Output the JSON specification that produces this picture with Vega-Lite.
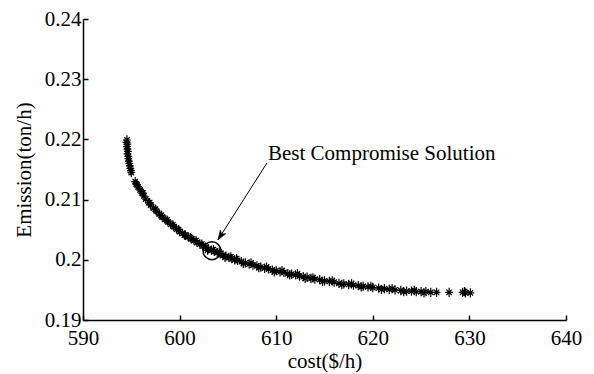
{
  "$schema": "https://vega.github.io/schema/vega-lite/v6.json",
  "width": 483,
  "height": 301,
  "autosize": {"type": "none"},
  "padding": {"left": 83, "top": 19, "right": 28, "bottom": 54},
  "background": "white",
  "config": {
    "view": {"stroke": null},
    "font": "Liberation Serif",
    "axis": {
      "domainColor": "black",
      "domainWidth": 1.5,
      "tickColor": "black",
      "tickWidth": 1.5,
      "tickSize": -5,
      "grid": false,
      "labelColor": "black",
      "labelFont": "Liberation Serif",
      "labelFontSize": 21,
      "titleColor": "black",
      "titleFont": "Liberation Serif",
      "titleFontSize": 21,
      "titleFontWeight": "normal",
      "labelFlush": false,
      "labelOverlap": false
    }
  },
  "datasets": {
    "front": [
      {"c": 594.55, "e": 0.2199}, {"c": 594.5, "e": 0.2195}, {"c": 594.6, "e": 0.2192}, {"c": 594.55, "e": 0.2188},
      {"c": 594.6, "e": 0.2184}, {"c": 594.65, "e": 0.218}, {"c": 594.6, "e": 0.2176}, {"c": 594.7, "e": 0.2172},
      {"c": 594.7, "e": 0.2168}, {"c": 594.75, "e": 0.2164}, {"c": 594.8, "e": 0.216}, {"c": 594.85, "e": 0.2156},
      {"c": 594.9, "e": 0.2152}, {"c": 594.95, "e": 0.2148}, {"c": 595.0, "e": 0.2145},
      {"c": 595.4, "e": 0.213}, {"c": 595.5, "e": 0.2126}, {"c": 595.7, "e": 0.2121}, {"c": 595.9, "e": 0.2116},
      {"c": 596.1, "e": 0.2111}, {"c": 596.3, "e": 0.2106}, {"c": 596.5, "e": 0.2101}, {"c": 596.8, "e": 0.2095},
      {"c": 597.0, "e": 0.2091}, {"c": 597.3, "e": 0.2086}, {"c": 597.6, "e": 0.2081}, {"c": 597.9, "e": 0.2076},
      {"c": 598.2, "e": 0.2071}, {"c": 598.5, "e": 0.2067}, {"c": 598.8, "e": 0.2063}, {"c": 599.1, "e": 0.2059},
      {"c": 599.4, "e": 0.2055}, {"c": 599.7, "e": 0.2051}, {"c": 600.0, "e": 0.2047}, {"c": 600.3, "e": 0.2044},
      {"c": 600.6, "e": 0.2041}, {"c": 600.9, "e": 0.2038}, {"c": 601.2, "e": 0.2035}, {"c": 601.5, "e": 0.2032},
      {"c": 601.8, "e": 0.2029}, {"c": 602.1, "e": 0.2026}, {"c": 602.4, "e": 0.2023}, {"c": 602.7, "e": 0.2021},
      {"c": 603.0, "e": 0.2018}, {"c": 603.3, "e": 0.2016}, {"c": 603.6, "e": 0.2014}, {"c": 603.9, "e": 0.2012},
      {"c": 604.2, "e": 0.201}, {"c": 604.5, "e": 0.2008}, {"c": 604.8, "e": 0.2006}, {"c": 605.1, "e": 0.2004},
      {"c": 605.4, "e": 0.2002}, {"c": 605.7, "e": 0.2}, {"c": 606.0, "e": 0.1999}, {"c": 606.4, "e": 0.1997},
      {"c": 606.8, "e": 0.1995}, {"c": 607.2, "e": 0.1993}, {"c": 607.6, "e": 0.1991}, {"c": 608.0, "e": 0.199},
      {"c": 608.4, "e": 0.1988}, {"c": 608.8, "e": 0.1986}, {"c": 609.2, "e": 0.1985}, {"c": 609.6, "e": 0.1983},
      {"c": 610.0, "e": 0.1982}, {"c": 610.4, "e": 0.198}, {"c": 610.8, "e": 0.1979}, {"c": 611.2, "e": 0.1977},
      {"c": 611.6, "e": 0.1976}, {"c": 612.0, "e": 0.1975}, {"c": 612.4, "e": 0.1973}, {"c": 612.8, "e": 0.1972},
      {"c": 613.2, "e": 0.1971}, {"c": 613.6, "e": 0.1969}, {"c": 614.0, "e": 0.1968}, {"c": 614.5, "e": 0.1967},
      {"c": 615.0, "e": 0.1965}, {"c": 615.5, "e": 0.1964}, {"c": 616.0, "e": 0.1963}, {"c": 616.5, "e": 0.1961},
      {"c": 617.0, "e": 0.196}, {"c": 617.5, "e": 0.1959}, {"c": 618.0, "e": 0.1958}, {"c": 618.5, "e": 0.1957},
      {"c": 619.0, "e": 0.1956}, {"c": 619.5, "e": 0.1955}, {"c": 620.0, "e": 0.1954}, {"c": 620.6, "e": 0.1953},
      {"c": 621.2, "e": 0.1952}, {"c": 621.7, "e": 0.1951}, {"c": 622.3, "e": 0.195}, {"c": 622.9, "e": 0.1949},
      {"c": 623.5, "e": 0.1948}, {"c": 624.0, "e": 0.1948}, {"c": 624.5, "e": 0.1947}, {"c": 625.0, "e": 0.1947},
      {"c": 625.5, "e": 0.1947}, {"c": 626.0, "e": 0.1946}, {"c": 626.6, "e": 0.1946}, {"c": 627.9, "e": 0.1946},
      {"c": 629.3, "e": 0.1946}, {"c": 629.6, "e": 0.1945}, {"c": 630.1, "e": 0.1945},
      {"c": 595.6, "e": 0.2125}, {"c": 596.2, "e": 0.2111}, {"c": 596.9, "e": 0.2095}, {"c": 597.5, "e": 0.2084},
      {"c": 598.1, "e": 0.2074}, {"c": 598.7, "e": 0.2066}, {"c": 599.3, "e": 0.2058}, {"c": 599.9, "e": 0.205},
      {"c": 600.5, "e": 0.2041}, {"c": 601.1, "e": 0.2037}, {"c": 601.7, "e": 0.2032}, {"c": 602.3, "e": 0.2026},
      {"c": 602.9, "e": 0.2016}, {"c": 603.5, "e": 0.2017}, {"c": 604.1, "e": 0.2013}, {"c": 604.7, "e": 0.2004},
      {"c": 605.3, "e": 0.2005}, {"c": 605.9, "e": 0.2002}, {"c": 606.6, "e": 0.1994}, {"c": 607.4, "e": 0.1995},
      {"c": 608.2, "e": 0.1987}, {"c": 609.0, "e": 0.1988}, {"c": 609.8, "e": 0.198}, {"c": 610.6, "e": 0.1982},
      {"c": 611.4, "e": 0.1975}, {"c": 612.2, "e": 0.1977}, {"c": 613.0, "e": 0.1969}, {"c": 613.8, "e": 0.197},
      {"c": 614.8, "e": 0.1964}, {"c": 615.8, "e": 0.1965}, {"c": 616.8, "e": 0.1959}, {"c": 617.8, "e": 0.196},
      {"c": 618.8, "e": 0.1955}, {"c": 619.8, "e": 0.1956}, {"c": 620.9, "e": 0.1951}, {"c": 622.0, "e": 0.1952},
      {"c": 623.2, "e": 0.1947}, {"c": 624.3, "e": 0.1949}, {"c": 625.3, "e": 0.1945}, {"c": 629.5, "e": 0.1947}
    ],
    "best": [{"c": 603.35, "e": 0.2015}],
    "arrow": [{"c": 609.05, "e": 0.2161, "c2": 603.97, "e2": 0.2033}],
    "label": [{"c": 609.15, "e": 0.2166, "t": "Best Compromise Solution"}]
  },
  "layer": [
    {
      "data": {"name": "front"},
      "mark": {
        "type": "point",
        "shape": "M-1,0L1,0M0,-1.2L0,1.2M-0.7,-0.7L0.7,0.7M-0.7,0.7L0.7,-0.7",
        "filled": false,
        "stroke": "black",
        "strokeWidth": 1.2,
        "size": 60,
        "opacity": 1
      },
      "encoding": {
        "x": {
          "field": "c", "type": "quantitative",
          "scale": {"domain": [590, 640], "nice": false, "zero": false},
          "axis": {"title": "cost($/h)", "values": [590, 600, 610, 620, 630, 640], "format": "d", "labelFont": "Liberation Serif", "titleFont": "Liberation Serif", "labelPadding": 12, "titlePadding": 2}
        },
        "y": {
          "field": "e", "type": "quantitative",
          "scale": {"domain": [0.19, 0.24], "nice": false, "zero": false},
          "axis": {"title": "Emission(ton/h)", "values": [0.19, 0.2, 0.21, 0.22, 0.23, 0.24], "format": "~g", "labelFont": "Liberation Serif", "titleFont": "Liberation Serif", "labelPadding": 7, "titlePadding": 10}
        }
      }
    },
    {
      "data": {"name": "best"},
      "mark": {"type": "point", "shape": "circle", "filled": false, "stroke": "black", "strokeWidth": 1.5, "size": 320, "opacity": 1},
      "encoding": {
        "x": {"field": "c", "type": "quantitative"},
        "y": {"field": "e", "type": "quantitative"}
      }
    },
    {
      "data": {"name": "arrow"},
      "mark": {"type": "rule", "color": "black", "strokeWidth": 1},
      "encoding": {
        "x": {"field": "c", "type": "quantitative"},
        "y": {"field": "e", "type": "quantitative"},
        "x2": {"field": "c2"},
        "y2": {"field": "e2"}
      }
    },
    {
      "data": {"name": "arrow"},
      "mark": {"type": "point", "shape": "M0,0L-0.45,1.3L0,0.95L0.45,1.3Z", "filled": true, "fill": "black", "stroke": "black", "strokeWidth": 0.5, "size": 220, "angle": 212.5, "opacity": 1},
      "encoding": {
        "x": {"field": "c2", "type": "quantitative"},
        "y": {"field": "e2", "type": "quantitative"}
      }
    },
    {
      "data": {"name": "label"},
      "mark": {"type": "text", "align": "left", "baseline": "alphabetic", "font": "Liberation Serif", "fontSize": 21, "color": "black"},
      "encoding": {
        "x": {"field": "c", "type": "quantitative"},
        "y": {"field": "e", "type": "quantitative"},
        "text": {"field": "t"}
      }
    }
  ]
}
